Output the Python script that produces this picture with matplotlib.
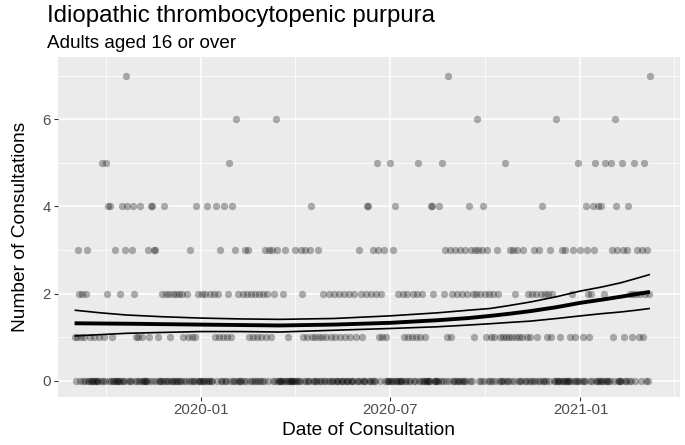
import numpy as np
import pandas as pd
import matplotlib
matplotlib.use("Agg")
import matplotlib.pyplot as plt
import matplotlib.dates as mdates
from matplotlib.ticker import MultipleLocator

plt.rcParams['font.family'] = ['Liberation Sans', 'DejaVu Sans']

title = "Idiopathic thrombocytopenic purpura"
subtitle = "Adults aged 16 or over"
x_label = "Date of Consultation"
y_label = "Number of Consultations"

start_date = "2019-09-01"
n_days = 556

# day offsets (from start_date) of days with each consultation count; other days are 0
days_count_1 = [0, 2, 6, 9, 15, 19, 24, 28, 36, 59, 61, 65, 72, 80, 92, 105, 109, 113, 116,
                135, 139, 143, 147, 151, 156, 168, 172, 176, 180, 185, 189, 206,
                220, 224, 229, 232, 236, 239, 243, 247, 251, 256, 261, 266, 271, 277,
                294, 297, 300, 304, 318, 322, 325, 329, 333, 338, 359, 363, 385, 394, 397,
                402, 405, 410, 413, 416, 419, 422, 426, 429, 432, 436, 439, 446,
                456, 460, 464, 468, 478, 483, 486, 490, 496, 519, 530, 538, 544, 548]
days_count_2 = [4, 7, 11, 31, 44, 57, 84, 88, 91, 95, 98, 101, 104, 108,
                119, 123, 126, 131, 134, 138, 148, 158, 162, 166, 170, 174, 178, 182, 186,
                192, 201, 219, 240, 245, 250, 255, 260, 265, 270, 276, 281, 286, 291, 296,
                312, 317, 321, 326, 330, 335, 346, 356, 364, 369, 374, 379, 384, 387, 391,
                396, 400, 404, 408, 425, 437, 441, 445, 450, 454, 457, 461, 480, 495, 498,
                511, 536, 539, 542, 545, 550, 554]
days_count_3 = [3, 12, 39, 49, 55, 71, 77, 78, 111, 140, 155, 164, 167, 184, 188, 190, 195,
                203, 213, 218, 222, 227, 235, 274, 288, 293, 298, 307, 357, 362, 367, 372,
                377, 382, 386, 389, 393, 398, 407, 420, 423, 427, 433, 443, 448, 459, 470,
                473, 481, 488, 494, 501, 518, 523, 529, 533, 543, 547, 552]
days_count_4 = [32, 34, 46, 51, 56, 63, 74, 75, 86, 117, 128, 136, 144, 152, 228, 282, 283,
                309, 344, 345, 352, 380, 394, 451, 493, 500, 505, 508, 522, 534]
days_count_5 = [26, 30, 149, 292, 304, 331, 354, 415, 486, 502, 512, 517, 528, 540, 549]
days_count_6 = [156, 194, 388, 464, 521]
days_count_7 = [50, 360, 555]

# smoothed trend (fit and confidence limits) read at these day offsets
smooth_days = [0, 25, 50, 85, 121, 160, 198, 250, 304, 350, 380, 401, 420, 440, 465, 488, 508, 527, 542, 555]
smooth_fit = [1.32, 1.315, 1.31, 1.30, 1.29, 1.28, 1.27, 1.29, 1.33, 1.39, 1.44, 1.49, 1.54,
              1.60, 1.69, 1.79, 1.86, 1.93, 1.99, 2.04]
smooth_upper = [1.62, 1.56, 1.51, 1.47, 1.44, 1.42, 1.41, 1.43, 1.49, 1.56, 1.62, 1.66, 1.73,
                1.81, 1.93, 2.06, 2.15, 2.25, 2.35, 2.44]
smooth_lower = [1.03, 1.06, 1.09, 1.11, 1.13, 1.13, 1.12, 1.16, 1.20, 1.24, 1.28, 1.31, 1.34,
                1.37, 1.43, 1.49, 1.54, 1.58, 1.62, 1.66]

dates = pd.date_range(start_date, periods=n_days, freq="D")
counts = np.zeros(n_days, dtype=int)
for level, days in [(1, days_count_1), (2, days_count_2), (3, days_count_3), (4, days_count_4),
                    (5, days_count_5), (6, days_count_6), (7, days_count_7)]:
    counts[np.array(days)] = level

smooth_dates = pd.Timestamp(start_date) + pd.to_timedelta(smooth_days, unit="D")

fig = plt.figure(figsize=(6.85, 4.45), dpi=100)
ax = fig.add_axes([58 / 685, 1 - 396.5 / 445, (680 - 58) / 685, (396.5 - 57) / 445])
ax.set_facecolor("#EBEBEB")

ax.scatter(dates, counts, s=28, color="black", alpha=0.3, linewidths=0, zorder=3)

ax.plot(smooth_dates, smooth_upper, color="black", lw=1.2, zorder=4, solid_capstyle="butt")
ax.plot(smooth_dates, smooth_lower, color="black", lw=1.2, zorder=4, solid_capstyle="butt")
ax.plot(smooth_dates, smooth_fit, color="black", lw=2.8, zorder=5, solid_capstyle="butt")

x0 = pd.Timestamp(start_date) - pd.Timedelta(days=16)
x1 = pd.Timestamp(start_date) + pd.Timedelta(days=584)
ax.set_xlim(x0, x1)
ax.set_ylim(-0.36, 7.43)

ax.xaxis.set_major_locator(mdates.MonthLocator(bymonth=[1, 7]))
ax.xaxis.set_major_formatter(mdates.DateFormatter("%Y-%m"))
ax.xaxis.set_minor_locator(mdates.MonthLocator(bymonth=[4, 10]))
ax.yaxis.set_major_locator(MultipleLocator(2))
ax.yaxis.set_minor_locator(MultipleLocator(1))

ax.grid(which="major", color="white", lw=1.1, zorder=0)
ax.grid(which="minor", color="white", lw=0.55, zorder=0)
ax.set_axisbelow(True)
for sp in ax.spines.values():
    sp.set_visible(False)

ax.tick_params(which="major", length=3, width=0.8, color="#333333", labelsize=10.8,
               labelcolor="#4D4D4D", pad=2)
ax.tick_params(which="minor", length=0)

ax.set_xlabel(x_label, fontsize=13.8, color="black", labelpad=3)
ax.set_ylabel(y_label, fontsize=13.8, color="black", labelpad=10)

fig.text(47 / 685, 1 - 16 / 445, title, fontsize=17.3, va="center", ha="left", color="black")
fig.text(47 / 685, 1 - 43 / 445, subtitle, fontsize=13.6, va="center", ha="left", color="black")

fig.savefig("out.png", dpi=100)
